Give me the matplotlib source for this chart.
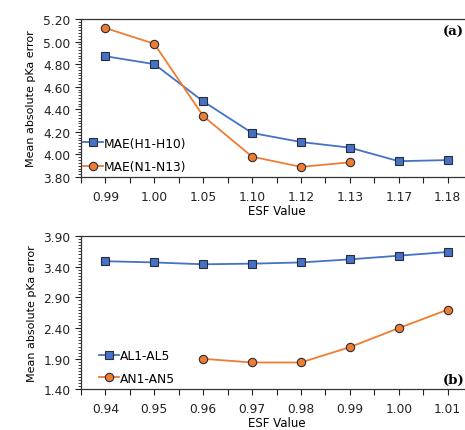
import matplotlib
matplotlib.use("Agg")
import numpy as np
import matplotlib.pyplot as plt
from matplotlib.ticker import FixedLocator, FormatStrFormatter

# panel (a)
esf_a = ["0.99", "1.00", "1.05", "1.10", "1.12", "1.13", "1.17", "1.18"]
mae_h = [4.87, 4.80, 4.47, 4.19, 4.11, 4.06, 3.94, 3.95]
mae_n = [5.12, 4.98, 4.34, 3.98, 3.89, 3.93]

# panel (b)
esf_b = ["0.94", "0.95", "0.96", "0.97", "0.98", "0.99", "1.00", "1.01"]
al = [3.49, 3.47, 3.44, 3.45, 3.47, 3.52, 3.58, 3.64]
an = [None, None, 1.90, 1.84, 1.84, 2.09, 2.40, 2.70]

blue = "#4472C4"
orange = "#ED7D31"
edge = "#2b2b3b"

plt.rcParams['font.family'] = ['DejaVu Sans']
fs = 8.8

fig = plt.figure(figsize=(4.65, 4.31), dpi=100)
ax1 = fig.add_axes([0.1742, 0.587, 0.841, 0.3666])
ax2 = fig.add_axes([0.1742, 0.094, 0.841, 0.356])


def style(ax, labels, ymin, ymax, major, minor):
    ax.set_xlim(-0.5, len(labels) - 0.5)
    ax.set_ylim(ymin, ymax)
    ax.xaxis.set_major_locator(FixedLocator(range(len(labels))))
    ax.set_xticklabels(labels)
    ax.xaxis.set_minor_locator(FixedLocator([i + 0.5 for i in range(-1, len(labels))]))
    ax.yaxis.set_major_locator(FixedLocator(np.arange(ymin, ymax + 1e-6, major)))
    ax.yaxis.set_minor_locator(FixedLocator(np.arange(ymin, ymax + 1e-6, minor)))
    ax.yaxis.set_major_formatter(FormatStrFormatter('%.2f'))
    ax.tick_params(axis='both', which='both', direction='out', colors='#222222', labelsize=fs)
    ax.tick_params(axis='x', which='both', length=4, width=0.8, pad=5)
    ax.tick_params(axis='y', which='major', length=4, width=0.8)
    ax.tick_params(axis='y', which='minor', length=2.5, width=0.6)
    for s in ax.spines.values():
        s.set_color('#333333')
        s.set_linewidth(0.9)
    ax.set_xlabel("ESF Value", fontsize=8.5, labelpad=1)
    ax.set_ylabel("Mean absolute pKa error", fontsize=8, labelpad=5)


style(ax1, esf_a, 3.80, 5.20, 0.20, 0.025)
ax1.plot(range(len(mae_h)), mae_h, color=blue, lw=1.3, marker='s', ms=6,
         mfc=blue, mec=edge, mew=0.8, label="MAE(H1-H10)")
ax1.plot(range(len(mae_n)), mae_n, color=orange, lw=1.3, marker='o', ms=6,
         mfc=orange, mec=edge, mew=0.8, label="MAE(N1-N13)")
ax1.legend(loc='lower left', bbox_to_anchor=(-0.022, -0.045), frameon=False,
           fontsize=fs, handlelength=1.6, handletextpad=0.1, labelspacing=0.85)
ax1.text(0.925, 0.92, "(a)", transform=ax1.transAxes, fontsize=9.5,
         fontweight='bold', family='DejaVu Serif', ha='left', va='center')

style(ax2, esf_b, 1.40, 3.90, 0.50, 0.05)
xs = list(range(len(al)))
ax2.plot(xs, al, color=blue, lw=1.3, marker='s', ms=6,
         mfc=blue, mec=edge, mew=0.8, label="AL1-AL5")
an_x = [x for x, v in zip(xs, an) if v is not None]
an_y = [v for v in an if v is not None]
ax2.plot(an_x, an_y, color=orange, lw=1.3, marker='o', ms=6,
         mfc=orange, mec=edge, mew=0.8, label="AN1-AN5")
ax2.legend(loc='lower left', bbox_to_anchor=(0.018, -0.04), frameon=False,
           fontsize=fs, handlelength=1.6, handletextpad=0.1, labelspacing=0.75)
ax2.text(0.925, 0.065, "(b)", transform=ax2.transAxes, fontsize=9.5,
         fontweight='bold', family='DejaVu Serif', ha='left', va='center')

fig.savefig("out.png", dpi=100)
